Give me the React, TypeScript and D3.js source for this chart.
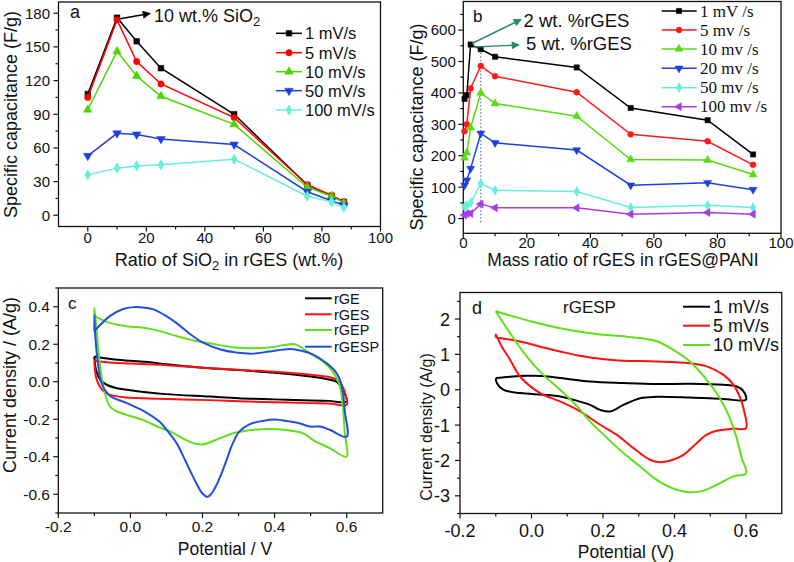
import React from "react";
import * as d3 from "d3";

// ---------- Panel a data ----------
const aRatio = [0, 10, 16.7, 25, 50, 75, 83.3, 87.5];
const a1 = [108, 176, 155, 131, 90, 27, 17, 12];
const a5 = [105, 174, 137, 117, 87, 27, 18, 12];
const a10 = [94, 146, 124, 106, 81, 25, 17, 11];
const a50 = [53, 73, 72, 68, 63, 21, 13, 9];
const a100 = [36, 42, 44, 45, 50, 17, 12, 7];
const aLabels = ["1 mV/s", "5 mV/s", "10 mV/s", "50 mV/s", "100 mV/s"];
const aXTicks = [0, 20, 40, 60, 80, 100];
const aYTicks = [0, 30, 60, 90, 120, 150, 180];

// ---------- Panel b data ----------
const bRatio = [0.4, 1.1, 2.3, 5.5, 10, 35.7, 52.7, 76.9, 91.2];
const b1 = [381, 393, 554, 539, 515, 481, 352, 313, 204];
const b5 = [278, 300, 414, 486, 453, 402, 268, 246, 171];
const b10 = [193, 210, 289, 400, 366, 326, 188, 186, 140];
const b20 = [106, 122, 159, 271, 241, 218, 106, 114, 92];
const b50 = [37, 42, 50, 111, 90, 86, 35, 42, 35];
const b100 = [11, 16, 16, 46, 34, 34, 14, 19, 14];
const bLabels = ["1 mV /s", "5 mv /s", "10 mv /s", "20 mv /s", "50 mv /s", "100 mv /s"];
const bXTicks = [0, 20, 40, 60, 80, 100];
const bYTicks = [0, 100, 200, 300, 400, 500, 600];

// ---------- Panel c data (potential V, current A/g) ----------
const cGE: [number, number][] = [
  [-0.1, 0.135], [-0.05, 0.12], [0.0, 0.112], [0.05, 0.105], [0.1, 0.093], [0.2, 0.075], [0.3, 0.062], [0.4, 0.048],
  [0.5, 0.028], [0.55, 0.012], [0.572, 0.0], [0.586, -0.034], [0.6, -0.105],
  [0.55, -0.102], [0.5, -0.1], [0.4, -0.094], [0.3, -0.088], [0.22, -0.079], [0.1, -0.066], [0.05, -0.057],
  [0.0, -0.045], [-0.04, -0.033], [-0.066, -0.016], [-0.084, 0.011], [-0.095, 0.06], [-0.1, 0.135],
];
const cGES: [number, number][] = [
  [-0.1, 0.112], [-0.05, 0.101], [0.0, 0.097], [0.1, 0.088], [0.2, 0.075], [0.3, 0.064], [0.4, 0.053], [0.5, 0.037],
  [0.55, 0.025], [0.575, 0.008], [0.59, -0.03], [0.597, -0.07], [0.6, -0.123],
  [0.55, -0.116], [0.5, -0.114], [0.4, -0.109], [0.3, -0.104], [0.22, -0.098], [0.08, -0.091], [-0.01, -0.084],
  [-0.056, -0.07], [-0.075, -0.05], [-0.088, -0.015], [-0.096, 0.03], [-0.1, 0.112],
];
const cGEP: [number, number][] = [
  [-0.1, 0.35], [-0.057, 0.314], [-0.01, 0.296], [0.036, 0.288], [0.082, 0.27], [0.13, 0.243], [0.175, 0.22],
  [0.22, 0.205], [0.29, 0.183], [0.385, 0.183], [0.44, 0.2], [0.46, 0.198], [0.496, 0.154], [0.533, 0.109],
  [0.561, 0.055], [0.58, -0.016], [0.589, -0.123], [0.595, -0.28], [0.6, -0.4],
  [0.554, -0.355], [0.507, -0.311], [0.48, -0.275], [0.432, -0.257], [0.385, -0.252], [0.339, -0.257],
  [0.293, -0.271], [0.247, -0.302], [0.2, -0.334], [0.166, -0.322], [0.11, -0.265], [0.082, -0.245],
  [0.036, -0.205], [-0.01, -0.177], [-0.035, -0.16], [-0.057, -0.132], [-0.075, -0.025], [-0.084, 0.082],
  [-0.093, 0.261], [-0.1, 0.395], [-0.1, 0.35],
];
const cGESP: [number, number][] = [
  [-0.1, 0.27], [-0.057, 0.35], [-0.02, 0.388], [0.008, 0.398], [0.04, 0.395], [0.064, 0.386], [0.1, 0.35],
  [0.13, 0.31], [0.165, 0.255], [0.2, 0.21], [0.25, 0.172], [0.293, 0.156], [0.339, 0.15], [0.385, 0.161],
  [0.441, 0.175], [0.468, 0.168], [0.507, 0.145], [0.544, 0.1], [0.572, 0.046], [0.586, -0.016],
  [0.595, -0.159], [0.6, -0.293],
  [0.554, -0.257], [0.526, -0.239], [0.498, -0.239], [0.468, -0.221], [0.432, -0.209], [0.404, -0.202],
  [0.367, -0.209], [0.33, -0.227], [0.302, -0.266], [0.284, -0.329], [0.265, -0.427], [0.247, -0.516],
  [0.228, -0.588], [0.214, -0.614], [0.2, -0.596], [0.181, -0.534], [0.154, -0.427], [0.129, -0.33],
  [0.1, -0.255], [0.082, -0.215], [0.036, -0.155], [-0.01, -0.114], [-0.057, -0.075], [-0.08, -0.007],
  [-0.089, 0.082], [-0.098, 0.262], [-0.1, 0.355], [-0.1, 0.27],
];
const cLabels = ["rGE", "rGES", "rGEP", "rGESP"];
const cXTicks = [-0.2, 0, 0.2, 0.4, 0.6];
const cYTicks = [-0.6, -0.4, -0.2, 0, 0.2, 0.4];

// ---------- Panel d data ----------
const d1: [number, number][] = [
  [-0.1, 0.33], [-0.06, 0.37], [-0.013, 0.395], [0.03, 0.39], [0.082, 0.33], [0.164, 0.234], [0.257, 0.19],
  [0.35, 0.16], [0.443, 0.17], [0.537, 0.14], [0.574, 0.09], [0.592, -0.03], [0.6, -0.28],
  [0.537, -0.26], [0.443, -0.22], [0.35, -0.2], [0.304, -0.24], [0.257, -0.43], [0.22, -0.615], [0.192, -0.57],
  [0.164, -0.43], [0.12, -0.29], [0.08, -0.19], [0.033, -0.14], [-0.032, -0.095], [-0.079, 0.0],
  [-0.097, 0.19], [-0.1, 0.33],
];
const d5: [number, number][] = [
  [-0.1, 1.48], [-0.06, 1.42], [-0.013, 1.32], [0.03, 1.2], [0.08, 1.08], [0.13, 0.97], [0.173, 0.9],
  [0.22, 0.85], [0.257, 0.82], [0.35, 0.8], [0.443, 0.75], [0.49, 0.66], [0.537, 0.42], [0.565, 0.14],
  [0.584, -0.24], [0.595, -0.61], [0.6, -1.09],
  [0.565, -1.1], [0.518, -1.16], [0.49, -1.27], [0.462, -1.51], [0.425, -1.84], [0.387, -2.01], [0.359, -2.05],
  [0.331, -1.98], [0.285, -1.65], [0.238, -1.27], [0.192, -0.99], [0.164, -0.8], [0.136, -0.61], [0.08, -0.33],
  [0.024, -0.095], [-0.032, 0.375], [-0.06, 0.85], [-0.085, 1.25], [-0.1, 1.56], [-0.1, 1.48],
];
const d10: [number, number][] = [
  [-0.1, 2.22], [-0.05, 2.07], [0.0, 1.93], [0.08, 1.74], [0.164, 1.6], [0.22, 1.54], [0.257, 1.51],
  [0.304, 1.46], [0.35, 1.37], [0.397, 1.13], [0.443, 0.8], [0.49, 0.28], [0.527, -0.24], [0.555, -0.8],
  [0.574, -1.37], [0.588, -1.93], [0.6, -2.36],
  [0.565, -2.45], [0.518, -2.69], [0.48, -2.86], [0.443, -2.9], [0.406, -2.83], [0.35, -2.55], [0.304, -2.17],
  [0.257, -1.79], [0.21, -1.35], [0.164, -0.9], [0.126, -0.45], [0.08, 0.0], [0.033, 0.42], [-0.013, 0.94],
  [-0.06, 1.6], [-0.1, 2.22],
];
const dLabels = ["1 mV/s", "5 mV/s", "10 mV/s"];
const dXTicks = [-0.2, 0, 0.2, 0.4, 0.6];
const dYTicks = [-3, -2, -1, 0, 1, 2];

const SANS = "'Liberation Sans', Arial, sans-serif";
const SERIF = "'Liberation Serif', 'Times New Roman', serif";

type Shape = "square" | "circle" | "tri" | "dtri" | "diamond" | "ltri";
function Marker({ shape, x, y, color, size }: { shape: Shape; x: number; y: number; color: string; size: number }) {
  const map: Record<Shape, [d3.SymbolType, number]> = {
    square: [d3.symbolSquare, 0],
    circle: [d3.symbolCircle, 0],
    tri: [d3.symbolTriangle, 0],
    dtri: [d3.symbolTriangle, 180],
    diamond: [d3.symbolDiamond, 0],
    ltri: [d3.symbolTriangle, -90],
  };
  const [t, r] = map[shape];
  const p = d3.symbol().type(t).size(size)() as string;
  return <path d={p} transform={`translate(${x},${y}) rotate(${r})`} fill={color} stroke={color} strokeWidth={0.5} />;
}

function Axes({ xs, ys, xMaj, xMin, yMaj, yMin, fx, fy, fs, xOff, yOff }: any) {
  const [x0, x1] = xs.range();
  const [yb, yt] = ys.range();
  const st = "#111";
  return (
    <g>
      <rect x={x0} y={yt} width={x1 - x0} height={yb - yt} fill="none" stroke={st} strokeWidth={1.3} />
      {xMaj.map((v: number, i: number) => (
        <line key={"xa" + i} x1={xs(v)} x2={xs(v)} y1={yb} y2={yb + 5} stroke={st} strokeWidth={1.2} />
      ))}
      {xMin.map((v: number, i: number) => (
        <line key={"xi" + i} x1={xs(v)} x2={xs(v)} y1={yb} y2={yb + 3} stroke={st} strokeWidth={1.2} />
      ))}
      {yMaj.map((v: number, i: number) => (
        <line key={"ya" + i} x1={x0} x2={x0 - 5} y1={ys(v)} y2={ys(v)} stroke={st} strokeWidth={1.2} />
      ))}
      {yMin.map((v: number, i: number) => (
        <line key={"yi" + i} x1={x0} x2={x0 - 3} y1={ys(v)} y2={ys(v)} stroke={st} strokeWidth={1.2} />
      ))}
      {xMaj.map((v: number, i: number) => (
        <text key={"xl" + i} x={xs(v)} y={yb + xOff} textAnchor="middle" fontSize={fs} fill="#111">{fx(v)}</text>
      ))}
      {yMaj.map((v: number, i: number) => (
        <text key={"yl" + i} x={x0 - yOff} y={ys(v)} dy="0.36em" textAnchor="end" fontSize={fs} fill="#111">{fy(v)}</text>
      ))}
    </g>
  );
}

function PanelA() {
  const xs = d3.scaleLinear().domain([-10, 100]).range([58.5, 380.5]);
  const ys = d3.scaleLinear().domain([-10, 190]).range([226.5, 2]);
  const series = [a1, a5, a10, a50, a100];
  const colors = ["#000000", "#ff0000", "#4cd600", "#1e3fe0", "#66eedd"];
  const shapes: Shape[] = ["square", "circle", "tri", "dtri", "diamond"];
  const line = d3.line<number>().x((_, i) => xs(aRatio[i])).y((d) => ys(d));
  const legY = [33.3, 52.7, 71.7, 90.7, 110];
  return (
    <g>
      <Axes xs={xs} ys={ys} xMaj={aXTicks} xMin={[10, 30, 50, 70, 90]} yMaj={aYTicks}
        yMin={[15, 45, 75, 105, 135, 165]} fx={(v: number) => String(v)} fy={(v: number) => String(v)}
        fs={15} xOff={16} yOff={8.5} />
      {series.map((s, k) => (
        <g key={k}>
          <path d={line(s) as string} fill="none" stroke={colors[k]} strokeWidth={1.5} />
          {s.map((v, i) => <Marker key={i} shape={shapes[k]} x={xs(aRatio[i])} y={ys(v)} color={colors[k]} size={32} />)}
        </g>
      ))}
      {aLabels.map((l, k) => (
        <g key={l}>
          <line x1={276} x2={302} y1={legY[k]} y2={legY[k]} stroke={colors[k]} strokeWidth={1.5} />
          <Marker shape={shapes[k]} x={289} y={legY[k]} color={colors[k]} size={32} />
          <text x={305} y={legY[k]} dy="0.36em" fontSize={16.5} fill="#111">{l}</text>
        </g>
      ))}
      <text x={70} y={18} fontSize={18} fill="#111">a</text>
      <line x1={xs(10) + 3} y1={ys(176) + 1} x2={150} y2={13.5} stroke="#000" strokeWidth={1.4} markerEnd="url(#arrK)" />
      <text x={154} y={22} fontSize={18} fill="#111">10 wt.% SiO<tspan dy={4} fontSize={13}>2</tspan></text>
      <text x={229} y={266} textAnchor="middle" fontSize={18} fill="#111">
        Ratio of SiO<tspan dy={4} fontSize={13}>2</tspan><tspan dy={-4}> in rGES (wt.%)</tspan>
      </text>
      <text transform="translate(17,114.5) rotate(-90)" textAnchor="middle" fontSize={18} fill="#111">Specific capacitance (F/g)</text>
    </g>
  );
}

function PanelB() {
  const xs = d3.scaleLinear().domain([0, 100]).range([463.3, 781]);
  const ys = d3.scaleLinear().domain([-47, 691]).range([233.3, 1.5]);
  const series = [b1, b5, b10, b20, b50, b100];
  const colors = ["#000000", "#ff1a1a", "#55dd11", "#1e40e0", "#66eedd", "#a63ee6"];
  const shapes: Shape[] = ["square", "circle", "tri", "dtri", "diamond", "ltri"];
  const line = d3.line<number>().x((_, i) => xs(bRatio[i])).y((d) => ys(d));
  const legY = [11, 30, 49, 68.3, 87.7, 106.7];
  return (
    <g>
      <Axes xs={xs} ys={ys} xMaj={bXTicks} xMin={[10, 30, 50, 70, 90]} yMaj={bYTicks}
        yMin={[50, 150, 250, 350, 450, 550, 650]} fx={(v: number) => String(v)} fy={(v: number) => String(v)}
        fs={15} xOff={14.5} yOff={7.5} />
      <line x1={xs(5.5)} x2={xs(5.5)} y1={ys(539)} y2={ys(-14)} stroke="#4a5a9a" strokeWidth={1} strokeDasharray="1.5,2" />
      {series.map((s, k) => (
        <g key={k}>
          <path d={line(s) as string} fill="none" stroke={colors[k]} strokeWidth={1.5} />
          {s.map((v, i) => <Marker key={i} shape={shapes[k]} x={xs(bRatio[i])} y={ys(v)} color={colors[k]} size={28} />)}
        </g>
      ))}
      {bLabels.map((l, k) => (
        <g key={l}>
          <line x1={661.7} x2={696.7} y1={legY[k]} y2={legY[k]} stroke={colors[k]} strokeWidth={1.5} />
          <Marker shape={shapes[k]} x={679} y={legY[k]} color={colors[k]} size={28} />
          <text x={700} y={legY[k]} dy="0.33em" fontSize={17} fontFamily={SERIF} fill="#111">{l}</text>
        </g>
      ))}
      <text x={473} y={22} fontSize={17} fill="#111">b</text>
      <line x1={472} y1={43.5} x2={521} y2={19.5} stroke="#258a6c" strokeWidth={1.4} markerEnd="url(#arrG)" />
      <line x1={473.5} y1={47} x2={519} y2={45} stroke="#258a6c" strokeWidth={1.4} markerEnd="url(#arrG)" />
      <text x={523.5} y={26.5} fontSize={18.5} fill="#111">2 wt. %rGES</text>
      <text x={526} y={50} fontSize={18.5} fill="#111">5 wt. %rGES</text>
      <text x={623} y={266} textAnchor="middle" fontSize={17.5} fill="#111">Mass ratio of rGES in rGES@PANI</text>
      <text transform="translate(423,127) rotate(-90)" textAnchor="middle" fontSize={18} fill="#111">Specific capacitance (F/g)</text>
    </g>
  );
}

function PanelC() {
  const xs = d3.scaleLinear().domain([-0.2, 0.7]).range([58.3, 382.7]);
  const ys = d3.scaleLinear().domain([-0.7, 0.5]).range([513, 288]);
  const loops = [cGE, cGES, cGEP, cGESP];
  const colors = ["#000000", "#ff1010", "#5ee018", "#1f4fe0"];
  const line = d3.line<[number, number]>().x((d) => xs(d[0])).y((d) => ys(d[1])).curve(d3.curveCatmullRom.alpha(0.5));
  const legY = [298.3, 314.3, 330, 346.7];
  return (
    <g>
      <Axes xs={xs} ys={ys} xMaj={cXTicks} xMin={[-0.1, 0.1, 0.3, 0.5]} yMaj={cYTicks}
        yMin={[-0.7, -0.5, -0.3, -0.1, 0.1, 0.3, 0.5]} fx={(v: number) => v.toFixed(1)} fy={(v: number) => v.toFixed(1)}
        fs={15.5} xOff={19} yOff={8.3} />
      {loops.map((L, k) => (
        <path key={k} d={line(L) as string} fill="none" stroke={colors[k]} strokeWidth={2} />
      ))}
      {cLabels.map((l, k) => (
        <g key={l}>
          <line x1={305} x2={331.7} y1={legY[k]} y2={legY[k]} stroke={colors[k]} strokeWidth={2} />
          <text x={334} y={legY[k]} dy="0.36em" fontSize={14.5} fill="#111">{l}</text>
        </g>
      ))}
      <text x={68} y={309} fontSize={17} fill="#111">c</text>
      <text x={225} y={555} textAnchor="middle" fontSize={17.5} fill="#111">Potential / V</text>
      <text transform="translate(16,385) rotate(-90)" textAnchor="middle" fontSize={18} fill="#111">Current density / (A/g)</text>
    </g>
  );
}

function PanelD() {
  const xs = d3.scaleLinear().domain([-0.2, 0.7]).range([460, 781.75]);
  const ys = d3.scaleLinear().domain([-3.5, 2.75]).range([513.5, 292.5]);
  const loops = [d1, d5, d10];
  const colors = ["#000000", "#ff1010", "#5ee018"];
  const line = d3.line<[number, number]>().x((d) => xs(d[0])).y((d) => ys(d[1])).curve(d3.curveCatmullRom.alpha(0.5));
  const legY = [306.7, 325.7, 345];
  return (
    <g>
      <Axes xs={xs} ys={ys} xMaj={dXTicks} xMin={[-0.1, 0.1, 0.3, 0.5]} yMaj={dYTicks}
        yMin={[-3.5, -2.5, -1.5, -0.5, 0.5, 1.5, 2.5]} fx={(v: number) => v.toFixed(1)} fy={(v: number) => String(v)}
        fs={18} xOff={23} yOff={10} />
      {loops.map((L, k) => (
        <path key={k} d={line(L) as string} fill="none" stroke={colors[k]} strokeWidth={2} />
      ))}
      {dLabels.map((l, k) => (
        <g key={l}>
          <line x1={683} x2={710} y1={legY[k]} y2={legY[k]} stroke={colors[k]} strokeWidth={2} />
          <text x={713} y={legY[k]} dy="0.36em" fontSize={18} fill="#111">{l}</text>
        </g>
      ))}
      <text x={472} y={314} fontSize={18} fill="#111">d</text>
      <text x={563} y={313} fontSize={17} fill="#111">rGESP</text>
      <text x={626} y={558} textAnchor="middle" fontSize={17.5} fill="#111">Potential (V)</text>
      <text transform="translate(432,427) rotate(-90)" textAnchor="middle" fontSize={16} fill="#111">Current density (A/g)</text>
    </g>
  );
}

export default function App() {
  return (
    <svg width={794} height={562} style={{ position: "absolute", left: 0, top: 0, background: "#fff" }} fontFamily={SANS}>
      <defs>
        <marker id="arrK" viewBox="0 0 10 10" refX="9" refY="5" markerUnits="userSpaceOnUse" markerWidth="10" markerHeight="8" orient="auto">
          <path d="M0,0 L10,5 L0,10 z" fill="#000" />
        </marker>
        <marker id="arrG" viewBox="0 0 10 10" refX="9" refY="5" markerUnits="userSpaceOnUse" markerWidth="10" markerHeight="8" orient="auto">
          <path d="M0,0 L10,5 L0,10 z" fill="#258a6c" />
        </marker>
      </defs>
      <rect x={0} y={0} width={794} height={562} fill="#fff" />
      <PanelA />
      <PanelB />
      <PanelC />
      <PanelD />
    </svg>
  );
}
